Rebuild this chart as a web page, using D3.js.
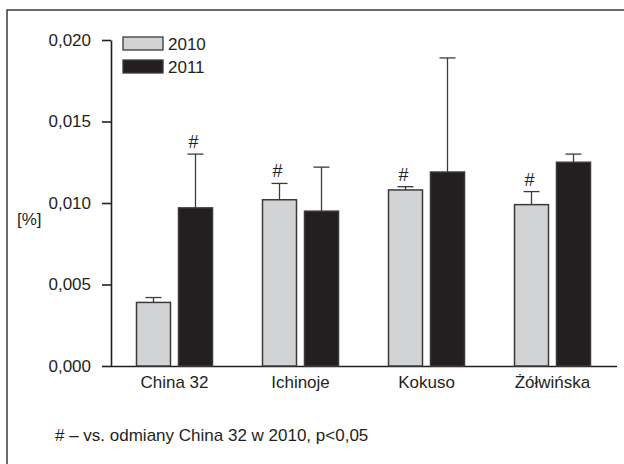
<!DOCTYPE html>
<html>
<head>
<meta charset="utf-8">
<script src="https://cdn.jsdelivr.net/npm/d3@7"></script>
<style>
  html, body { margin: 0; padding: 0; background: #fff; }
  svg { display: block; }
  text { font-family: "Liberation Sans", Arial, Helvetica, sans-serif; fill: #231f20; }
</style>
</head>
<body>
<svg id="chart" width="624" height="464"></svg>
<script>
// Varieties and the two harvest years
const categories = ["China 32", "Ichinoje", "Kokuso", "Żółwińska"];
const years = ["2010", "2011"];

// Mean content [%] and upper error (SD) per variety
const values2010 = [0.0039, 0.0102, 0.0108, 0.0099];
const errors2010 = [0.0003, 0.0010, 0.0002, 0.0008];
const values2011 = [0.0097, 0.0095, 0.0119, 0.0125];
const errors2011 = [0.0033, 0.0027, 0.0070, 0.0005];

// "#" significance marks (vs. China 32 in 2010)
const signif2010 = [false, true, true, true];
const signif2011 = [true, false, false, false];

const yTicks = [0, 0.005, 0.010, 0.015, 0.020];
const yLabel = "[%]";
const footnote = "# – vs. odmiany China 32 w 2010, p<0,05";

const ink = "#231f20";
const fills = { "2010": "#d2d3d5", "2011": "#231f20" };
const fontSize = "17px";

const svg = d3.select("#chart");

// Partial frame (top and left edges)
svg.append("path")
  .attr("d", "M7,464 V10 H624")
  .attr("fill", "none")
  .attr("stroke", "#3a3a3a")
  .attr("stroke-width", 1.5);

const y = d3.scaleLinear().domain([0, 0.02]).range([366, 40]);
const x = d3.scaleBand().domain(categories).range([111.5, 615.5]).padding(0);
const xs = d3.scaleBand().domain(years).range([-38, 38]).paddingInner(0.1905);

const plFormat = d3.formatLocale({ decimal: ",", thousands: " ", grouping: [3], currency: ["", ""] }).format(".3f");

// Y axis
const yAxis = svg.append("g")
  .attr("transform", "translate(111,0)")
  .call(d3.axisLeft(y).tickValues(yTicks).tickFormat(plFormat).tickSize(9).tickSizeOuter(0).tickPadding(11));
yAxis.select(".domain").attr("stroke", ink).attr("stroke-width", 1.6);
yAxis.selectAll(".tick line").attr("stroke", ink).attr("stroke-width", 1.6);
yAxis.selectAll(".tick text")
  .style("font-family", "'Liberation Sans', Arial, sans-serif")
  .style("font-size", fontSize)
  .attr("fill", ink);

// X axis (baseline and category labels, no ticks)
const xAxis = svg.append("g")
  .attr("transform", "translate(0,366)")
  .call(d3.axisBottom(x).tickSize(0).tickPadding(10));
xAxis.select(".domain")
  .attr("d", "M111,0.5H617")
  .attr("stroke", ink).attr("stroke-width", 1.6);
xAxis.selectAll(".tick text")
  .style("font-family", "'Liberation Sans', Arial, sans-serif")
  .style("font-size", fontSize)
  .attr("fill", ink);

// Flatten series into bar records
const rows = [];
categories.forEach((c, i) => {
  rows.push({ cat: c, year: "2010", v: values2010[i], e: errors2010[i], sig: signif2010[i] });
  rows.push({ cat: c, year: "2011", v: values2011[i], e: errors2011[i], sig: signif2011[i] });
});
const cx = d => x(d.cat) + x.bandwidth() / 2 + xs(d.year) + xs.bandwidth() / 2;

// Error whiskers (upper only), drawn behind bars
const err = svg.append("g").attr("stroke", "#3c3c3c").attr("stroke-width", 1.3);
err.selectAll("line.stem").data(rows).join("line")
  .attr("class", "stem")
  .attr("x1", cx).attr("x2", cx)
  .attr("y1", d => y(d.v)).attr("y2", d => y(d.v + d.e));
err.selectAll("line.cap").data(rows).join("line")
  .attr("class", "cap")
  .attr("x1", d => cx(d) - 8).attr("x2", d => cx(d) + 8)
  .attr("y1", d => y(d.v + d.e)).attr("y2", d => y(d.v + d.e));

// Bars
svg.append("g").selectAll("rect").data(rows).join("rect")
  .attr("x", d => x(d.cat) + x.bandwidth() / 2 + xs(d.year))
  .attr("y", d => y(d.v))
  .attr("width", xs.bandwidth())
  .attr("height", d => y(0) - y(d.v))
  .attr("fill", d => fills[d.year])
  .attr("stroke", "#3a3a3a")
  .attr("stroke-width", 1.5);

// Significance marks
svg.append("g").selectAll("text").data(rows.filter(d => d.sig)).join("text")
  .attr("x", d => cx(d) - 2)
  .attr("y", d => y(d.v + d.e) - 6)
  .attr("text-anchor", "middle")
  .style("font-size", "18px")
  .text("#");

// Legend
const legend = svg.append("g");
years.forEach((yr, i) => {
  legend.append("rect")
    .attr("x", 123).attr("y", 37 + i * 23)
    .attr("width", 40).attr("height", 13)
    .attr("fill", fills[yr])
    .attr("stroke", "#3a3a3a").attr("stroke-width", 1.3);
  legend.append("text")
    .attr("x", 168).attr("y", 50 + i * 23)
    .style("font-size", fontSize)
    .text(yr);
});

// Y axis unit label
svg.append("text").attr("x", 17).attr("y", 225).style("font-size", fontSize).text(yLabel);

// Footnote
svg.append("text").attr("x", 55).attr("y", 441).style("font-size", fontSize).text(footnote);
</script>
</body>
</html>
